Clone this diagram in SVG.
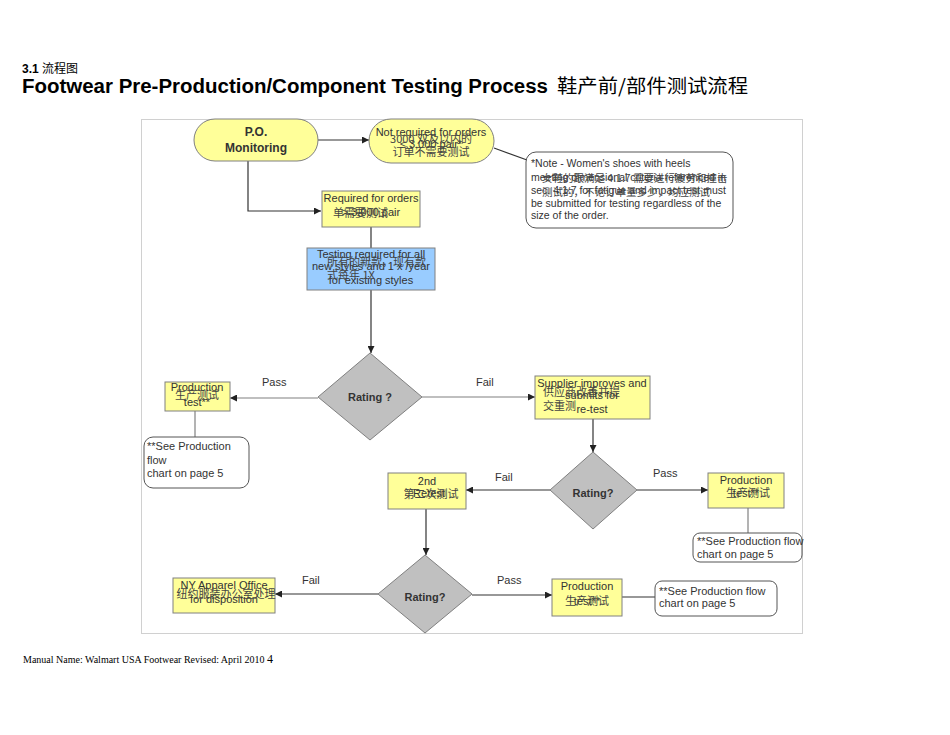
<svg xmlns="http://www.w3.org/2000/svg" width="950" height="735" viewBox="0 0 950 735">
<style>
.en{font-family:"Liberation Sans",Arial,sans-serif;font-size:11px;fill:#333}
.zh{font-family:"Noto Sans CJK SC",sans-serif;font-size:11px;fill:#444}
.b{font-weight:bold;fill:#333}
.y{fill:#ffff99;stroke:#808080;stroke-width:1}
.bl{fill:#99ccff;stroke:#808080;stroke-width:1}
.d{fill:#c0c0c0;stroke:#808080;stroke-width:1}
.n{fill:#fff;stroke:#555;stroke-width:1}
.c{stroke:#333;stroke-width:1.2;fill:none}
.g{stroke:#808080;stroke-width:1.2;fill:none}
.m{text-anchor:middle}
</style>
<defs>
<marker id="ah" viewBox="0 0 10 10" refX="10" refY="5" markerWidth="7" markerHeight="7" orient="auto" markerUnits="userSpaceOnUse"><path d="M0,0 L10,5 L0,10 z" fill="#222"/></marker>
</defs>
<rect width="950" height="735" fill="#fff"/>
<g id="title">
<text x="22" y="73" style="font-family:'Liberation Sans',Arial,sans-serif;font-size:12px;font-weight:bold">3.1 <tspan style="font-family:'Noto Sans CJK SC',sans-serif;font-weight:normal">流程图</tspan></text>
<text x="22" y="93" style="font-family:'Liberation Sans',Arial,sans-serif;font-size:20px;font-weight:bold" textLength="526" lengthAdjust="spacingAndGlyphs">Footwear Pre-Production/Component Testing Process</text>
<text x="557" y="93" style="font-family:'Noto Sans CJK SC',sans-serif;font-size:19px" textLength="191" lengthAdjust="spacingAndGlyphs">鞋产前/部件测试流程</text>
</g>
<rect id="frame" x="141.5" y="119.5" width="661" height="514" fill="none" stroke="#d0d0d0" stroke-width="1"/>
<g id="connectors">
<line class="c" x1="318" y1="140" x2="369" y2="140" marker-end="url(#ah)"/>
<line class="c" x1="494" y1="148" x2="527" y2="160"/>
<polyline class="c" points="248,161 248,211 321,211" marker-end="url(#ah)"/>
<line class="c" x1="371" y1="227" x2="371" y2="248"/>
<line class="c" x1="371" y1="290" x2="371" y2="353" marker-end="url(#ah)"/>
<line class="g" x1="318" y1="398" x2="230" y2="398" marker-end="url(#ah)"/>
<line class="g" x1="422" y1="397" x2="535" y2="397" marker-end="url(#ah)"/>
<line class="g" x1="195" y1="411" x2="195" y2="437"/>
<line class="c" x1="593" y1="419" x2="593" y2="452" marker-end="url(#ah)"/>
<line class="c" x1="550" y1="490" x2="466" y2="490" marker-end="url(#ah)"/>
<line class="c" x1="637" y1="490" x2="708" y2="490" marker-end="url(#ah)"/>
<line class="g" x1="748" y1="508" x2="748" y2="533"/>
<line class="c" x1="426" y1="509" x2="426" y2="555" marker-end="url(#ah)"/>
<line class="c" x1="378" y1="594" x2="275" y2="594" marker-end="url(#ah)"/>
<line class="c" x1="472" y1="595" x2="552" y2="595" marker-end="url(#ah)"/>
<line class="c" x1="622" y1="597" x2="655" y2="597"/>
<text class="en" x="262" y="386">Pass</text>
<text class="en" x="476" y="386">Fail</text>
<text class="en" x="495" y="481">Fail</text>
<text class="en" x="653" y="477">Pass</text>
<text class="en" x="302" y="584">Fail</text>
<text class="en" x="497" y="584">Pass</text>
</g>
<g id="po">
<rect class="y" x="194" y="119" width="124" height="42" rx="21"/>
<text class="en b m" x="256" y="136" style="font-size:12px">P.O.</text>
<text class="en b m" x="256" y="152" style="font-size:12px">Monitoring</text>
</g>
<g id="notreq">
<rect class="y" x="369" y="119" width="125" height="44" rx="22"/>
<text class="en m" x="431" y="136">Not required for orders</text>
<text class="en m" x="431" y="148">≤ 3,000 pair*</text>
<text class="zh m" x="431" y="143">3000 双及以内的</text>
<text class="zh m" x="431" y="156">订单不需要测试</text>
</g>
<g id="note1">
<rect class="n" x="526" y="152" width="207" height="76" rx="10"/>
<text class="en" x="531" y="167" style="font-size:10.5px">*Note - Women's shoes with heels</text>
<text class="en" x="531" y="181" style="font-size:10.5px">meeting dimensional criteria referenced in</text>
<text class="en" x="531" y="194" style="font-size:10.5px">sec. 4.1.7 for fatigue and impact test must</text>
<text class="en" x="531" y="207" style="font-size:10.5px">be submitted for testing regardless of the</text>
<text class="en" x="531" y="219" style="font-size:10.5px">size of the order.</text>
<text class="zh" x="542" y="182" style="font-size:10.5px">女鞋的跟满足 4.1.7 需要进行疲劳和撞击</text>
<text class="zh" x="542" y="196" style="font-size:10.5px">测试的，不论订单量多少，均应测试</text>
</g>
<g id="req">
<rect class="y" x="322" y="191" width="98" height="36"/>
<text class="en m" x="371" y="202">Required for orders</text>
<text class="en m" x="371" y="216">&gt; 3,000 pair</text>
<text class="zh" x="333" y="217">单需要测试</text>
</g>
<g id="testing">
<rect class="bl" x="307" y="248" width="128" height="42"/>
<text class="en m" x="371" y="258">Testing required for all</text>
<text class="en m" x="371" y="270">new styles and 1 x /year</text>
<text class="en m" x="371" y="284">for existing styles</text>
<text class="zh" x="327" y="266">所有的新款，现有款</text>
<text class="zh" x="327" y="279">式每年 1X</text>
</g>
<g id="rating1">
<polygon class="d" points="370,353 422,397 370,440 318,397"/>
<text class="en b m" x="370" y="401">Rating ?</text>
</g>
<g id="prod1">
<rect class="y" x="165" y="382" width="65" height="29"/>
<text class="en m" x="197" y="391">Production</text>
<text class="en m" x="197" y="406">test**</text>
<text class="zh m" x="197" y="399">生产测试</text>
</g>
<g id="note2">
<rect class="n" x="144" y="437" width="105" height="51" rx="9"/>
<text class="en" x="147" y="450">**See Production</text>
<text class="en" x="147" y="464">flow</text>
<text class="en" x="147" y="477">chart on page 5</text>
</g>
<g id="supplier">
<rect class="y" x="535" y="376" width="115" height="43"/>
<text class="en m" x="592" y="387">Supplier improves and</text>
<text class="en m" x="592" y="399">submits for</text>
<text class="en m" x="592" y="413">re-test</text>
<text class="zh" x="543" y="396">供应商改善并提</text>
<text class="zh" x="543" y="410">交重测</text>
</g>
<g id="rating2">
<polygon class="d" points="593,452 637,490 593,529 550,490"/>
<text class="en b m" x="593" y="497">Rating?</text>
</g>
<g id="retest">
<rect class="y" x="388" y="473" width="78" height="36"/>
<text class="en m" x="427" y="485">2nd</text>
<text class="en m" x="429" y="497">Retest</text>
<text class="zh m" x="431" y="498">第二次测试</text>
</g>
<g id="prod2">
<rect class="y" x="708" y="473" width="76" height="35"/>
<text class="en m" x="746" y="484">Production</text>
<text class="en m" x="746" y="497">test**</text>
<text class="zh m" x="748" y="497">生产测试</text>
</g>
<g id="note3">
<rect class="n" x="693" y="533" width="109" height="29" rx="7"/>
<text class="en" x="697" y="545">**See Production flow</text>
<text class="en" x="697" y="558">chart on page 5</text>
</g>
<g id="rating3">
<polygon class="d" points="425,555 472,594 425,633 378,594"/>
<text class="en b m" x="425" y="601">Rating?</text>
</g>
<g id="ny">
<rect class="y" x="173" y="578" width="102" height="35"/>
<text class="en m" x="224" y="589">NY Apparel Office</text>
<text class="en m" x="224" y="603">for disposition</text>
<text class="zh m" x="226" y="598">纽约服装办公室处理</text>
</g>
<g id="prod3">
<rect class="y" x="552" y="579" width="70" height="37"/>
<text class="en m" x="587" y="590">Production</text>
<text class="en m" x="587" y="605">test**</text>
<text class="zh m" x="587" y="605">生产测试</text>
</g>
<g id="note4">
<rect class="n" x="655" y="581" width="122" height="35" rx="7"/>
<text class="en" x="659" y="595">**See Production flow</text>
<text class="en" x="659" y="607">chart on page 5</text>
</g>
<g id="footer">
<text x="23" y="663" style="font-family:'Liberation Serif','Times New Roman',serif;font-size:10px">Manual Name: Walmart USA Footwear Revised: April 2010 <tspan style="font-size:12px">4</tspan></text>
</g>
</svg>
